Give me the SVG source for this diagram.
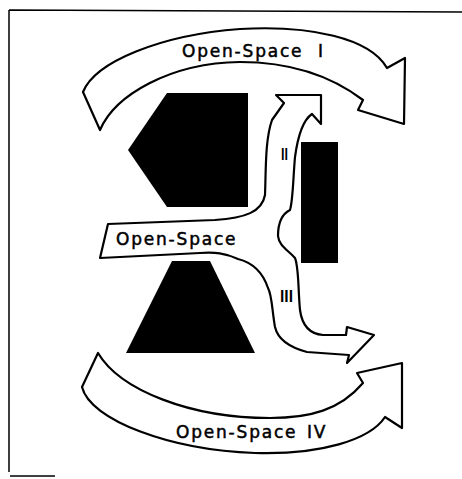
<svg xmlns="http://www.w3.org/2000/svg" width="462" height="479" viewBox="0 0 462 479">
<style>
.flow{fill:#fff;stroke:#000;stroke-width:2.2;stroke-linejoin:round}
.blk{fill:#000;stroke:none}
.frame{fill:none;stroke:#000;stroke-width:1.5}
.lbl{font-family:"DejaVu Sans","Liberation Sans",sans-serif;font-size:17px;letter-spacing:1.8px;fill:#000;stroke:#000;stroke-width:0.5}
.rom{font-family:"DejaVu Sans","Liberation Sans",sans-serif;font-size:15px;font-weight:bold;fill:#000}
</style>
<rect x="0" y="0" width="462" height="479" fill="#fff"/>
<g id="frame">
<path class="frame" d="M9,10 L462,12 M9,10 L9,472 M10,476 L55,476"/>
</g>
<g id="blocks">
<polygon id="pentagon" class="blk" points="167,93 248,93 248,207 167,207 128,150"/>
<rect id="rect-right" class="blk" x="301" y="142" width="37" height="121"/>
<polygon id="trapezoid" class="blk" points="172,261 210,261 255,353 126,353"/>
</g>
<g id="connectors">
<g id="open-space-1">
<path class="flow" d="M83,92 C95,62 160,35 240,29 C310,25 370,38 387,68 L405,58 L404,124 L358,110 L363,100 C330,75 290,62 240,62 C170,63 115,95 100,130 Z"/>
<text class="lbl" x="182" y="57">Open-Space <tspan x="318">I</tspan></text>
</g>
<g id="open-space-center">
<path class="flow" d="M108,224 L215,220 C245,218 262,212 265,195 C266,170 265,140 272,120 L284,103 L276,95 L321,95 L321,124 L312,114 C303,120 298,135 295,157 C293,180 293,200 290,210 C282,214 278,222 278,236 C279,246 288,250 295,258 C299,268 298,290 300,310 C302,325 310,334 323,335 L346,335 L347,327 L374,335 L347,363 L349,355 L307,352 C292,348 278,340 275,327 C272,310 272,295 268,288 C262,270 250,262 238,259 C225,253 215,252 200,253 L100,258 Z"/>
<text class="lbl" x="116" y="245">Open-Space</text>
<text class="rom" x="281" y="160" font-size="12" textLength="7" lengthAdjust="spacingAndGlyphs">II</text>
<text class="rom" x="280" y="302" textLength="13" lengthAdjust="spacingAndGlyphs">III</text>
</g>
<g id="open-space-4">
<path class="flow" d="M98,353 L82,387 C90,420 170,450 255,453 C320,455 370,440 385,417 L402,428 L402,363 L357,373 L363,383 C340,410 310,418 270,418 C190,418 120,390 98,353 Z"/>
<text class="lbl" x="176" y="438">Open-Space <tspan x="307">IV</tspan></text>
</g>
</g>
</svg>
